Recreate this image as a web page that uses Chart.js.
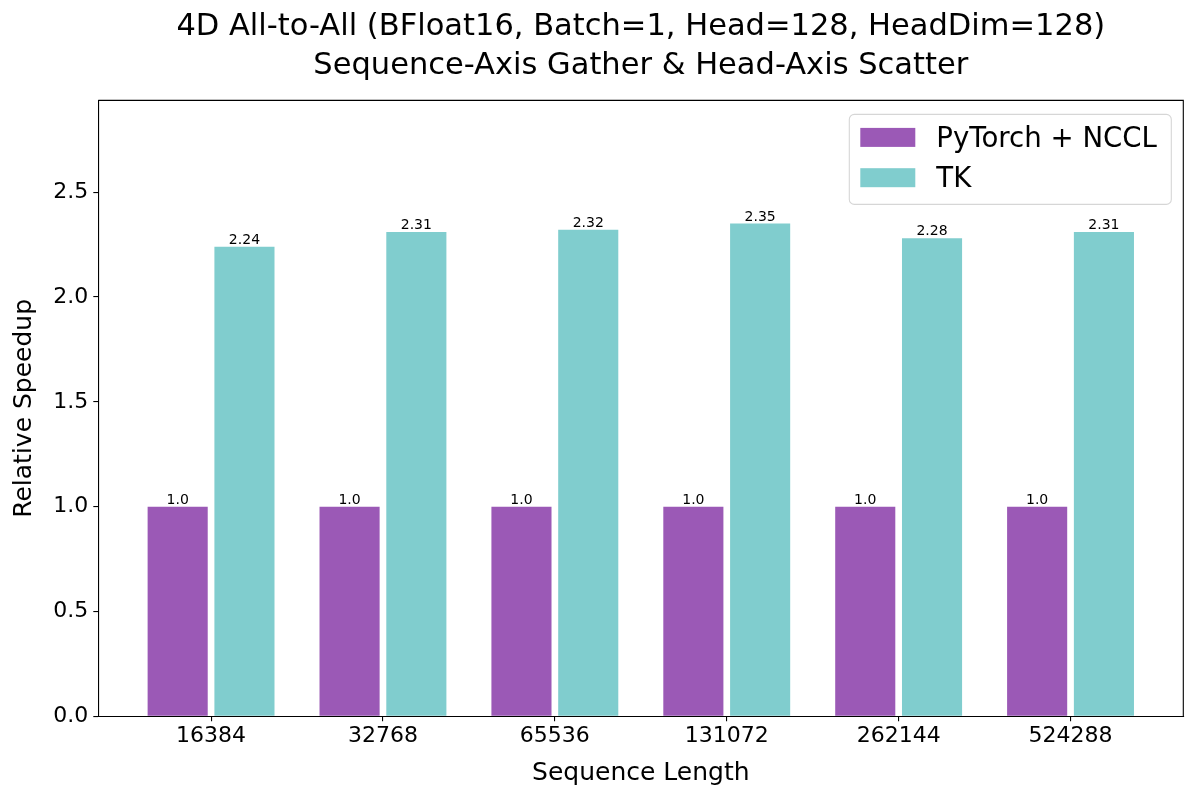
<!DOCTYPE html>
<html><head><meta charset="utf-8">
<script src="https://cdn.jsdelivr.net/npm/chart.js@4.4.0/dist/chart.umd.min.js"></script>
<style>html,body{margin:0;padding:0;background:#fff;overflow:hidden;} #wrap{width:1200px;height:800px;}</style>
</head><body><div id="wrap"><canvas id="c" width="1200" height="800"></canvas></div>
<script>
const categories = ['16384', '32768', '65536', '131072', '262144', '524288'];
const pytorchNccl = [1.0, 1.0, 1.0, 1.0, 1.0, 1.0];
const tk = [2.24, 2.31, 2.32, 2.35, 2.28, 2.31];
const yTicks = [0, 0.5, 1.0, 1.5, 2.0, 2.5];
const seriesNames = ['PyTorch + NCCL', 'TK'];
const seriesColors = ['#9b59b6', '#80cdce'];
const titleLines = ['4D All-to-All (BFloat16, Batch=1, Head=128, HeadDim=128)', 'Sequence-Axis Gather & Head-Axis Scatter'];
const xTitle = 'Sequence Length';
const yTitle = 'Relative Speedup';

const FF = 'DejaVu Sans';

function fmt(v) { return Number.isInteger(v) ? v.toFixed(1) : String(v); }

const barLabels = {
  id: 'barLabels',
  afterDatasetsDraw(chart) {
    const ctx = chart.ctx;
    ctx.save();
    ctx.font = '14px "' + FF + '"';
    ctx.fillStyle = '#000';
    ctx.textAlign = 'center';
    ctx.textBaseline = 'alphabetic';
    chart.data.datasets.forEach((ds, di) => {
      const meta = chart.getDatasetMeta(di);
      meta.data.forEach((el, i) => {
        ctx.fillText(fmt(ds.data[i].y), el.x, el.y - 3);
      });
    });
    ctx.restore();
  }
};

const frame = {
  id: 'frame',
  afterDraw(chart) {
    const {ctx, chartArea: a} = chart;
    ctx.save();
    ctx.strokeStyle = '#000';
    ctx.lineWidth = 1.1;
    ctx.beginPath();
    ctx.moveTo(a.left, a.top);
    ctx.lineTo(a.right, a.top);
    ctx.lineTo(a.right, a.bottom);
    ctx.stroke();
    ctx.restore();
  }
};

const boxLegend = {
  id: 'boxLegend',
  afterDraw(chart) {
    const ctx = chart.ctx;
    const a = chart.chartArea;
    const x0 = a.right - 334, y0 = a.top + 14, w = 322, h = 90, r = 5;
    ctx.save();
    ctx.beginPath();
    ctx.moveTo(x0 + r, y0);
    ctx.arcTo(x0 + w, y0, x0 + w, y0 + h, r);
    ctx.arcTo(x0 + w, y0 + h, x0, y0 + h, r);
    ctx.arcTo(x0, y0 + h, x0, y0, r);
    ctx.arcTo(x0, y0, x0 + w, y0, r);
    ctx.closePath();
    ctx.fillStyle = 'rgba(255,255,255,0.8)';
    ctx.fill();
    ctx.strokeStyle = '#d6d6d6';
    ctx.lineWidth = 1.1;
    ctx.stroke();
    ctx.font = '27.6px "' + FF + '"';
    ctx.textAlign = 'left';
    ctx.textBaseline = 'alphabetic';
    chart.data.datasets.forEach((ds, i) => {
      const py = y0 + 13.5 + i * 40.3;
      ctx.fillStyle = ds.backgroundColor;
      ctx.fillRect(x0 + 11, py, 55, 19);
      ctx.fillStyle = '#000';
      ctx.fillText(ds.label, x0 + 87, py + 19.2);
    });
    ctx.restore();
  }
};

const gridCommon = { display: true, drawOnChartArea: false, drawTicks: true, tickLength: 5, color: '#000', lineWidth: 1.1, offset: false };
const borderCommon = { display: true, color: '#000', width: 1.1 };

new Chart(document.getElementById('c'), {
  type: 'bar',
  data: {
    datasets: [
      { label: seriesNames[0], data: categories.map((c, i) => ({ x: i, y: pytorchNccl[i] })), backgroundColor: seriesColors[0], borderWidth: 0, categoryPercentage: 0.777, barPercentage: 0.9 },
      { label: seriesNames[1], data: categories.map((c, i) => ({ x: i, y: tk[i] })), backgroundColor: seriesColors[1], borderWidth: 0, categoryPercentage: 0.777, barPercentage: 0.9 }
    ]
  },
  options: {
    responsive: false,
    animation: false,
    devicePixelRatio: 1,
    layout: { padding: { left: 0, right: 16.7, top: 0, bottom: 0 } },
    plugins: {
      legend: { display: false },
      tooltip: { enabled: false },
      title: {
        display: true, text: titleLines, fullSize: false, color: '#000',
        font: { family: FF, size: 30.5, weight: 'normal', lineHeight: 1.3 },
        padding: { top: 7.1, bottom: 14 }
      }
    },
    scales: {
      x: {
        type: 'linear', min: -0.656, max: 5.656, offset: false,
        afterBuildTicks: s => { s.ticks = categories.map((c, i) => ({ value: i })); },
        afterFit: s => { s.height = 83.7; },
        ticks: { callback: (v, idx) => categories[idx], autoSkip: false, maxRotation: 0, color: '#000', padding: 2, font: { family: FF, size: 22, lineHeight: 1.2 } },
        grid: gridCommon,
        border: borderCommon,
        title: { display: true, text: xTitle, color: '#000', font: { family: FF, size: 25, lineHeight: 1.2 }, padding: { top: 0, bottom: 12 } }
      },
      y: {
        min: 0, max: 2.9375,
        afterBuildTicks: s => { s.ticks = yTicks.map(v => ({ value: v })); },
        afterFit: s => { s.width = 98.3; },
        ticks: { callback: v => v.toFixed(1), color: '#000', padding: 5, font: { family: FF, size: 22, lineHeight: 1.2 } },
        grid: gridCommon,
        border: borderCommon,
        title: { display: true, text: yTitle, color: '#000', font: { family: FF, size: 25, lineHeight: 1.2 }, padding: { top: 9.6, bottom: 0 } }
      }
    }
  },
  plugins: [barLabels, frame, boxLegend]
});
</script>
</body></html>
